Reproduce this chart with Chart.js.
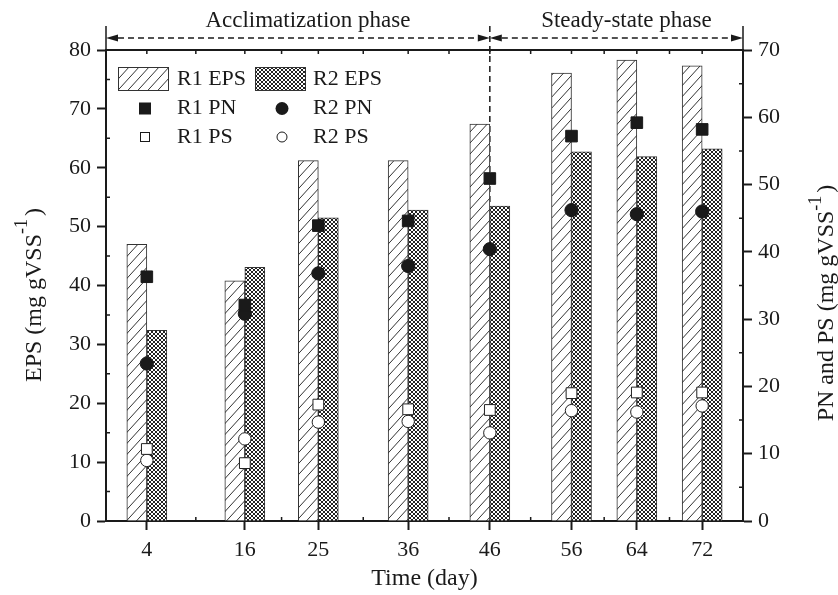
<!DOCTYPE html>
<html>
<head>
<meta charset="utf-8">
<title>EPS, PN and PS</title>
<script src="https://cdn.jsdelivr.net/npm/chart.js@4.4.1/dist/chart.umd.min.js"></script>
<style>
body { margin: 0; background: #fff; }
</style>
</head>
<body>
<canvas id="epsChart" width="838" height="595"></canvas>
<script>
var days = [4, 16, 25, 36, 46, 56, 64, 72];
var r1Eps = [47.0, 40.8, 61.2, 61.2, 67.4, 76.1, 78.3, 77.3];
var r2Eps = [32.4, 43.1, 51.5, 52.8, 53.5, 62.7, 61.9, 63.2];
var r1Pn = [36.3, 32.1, 43.9, 44.6, 50.9, 57.2, 59.2, 58.2];
var r2Pn = [23.4, 30.8, 36.8, 37.9, 40.4, 46.2, 45.6, 46.0];
var r1Ps = [10.7, 8.6, 17.3, 16.6, 16.5, 19.0, 19.1, 19.1];
var r2Ps = [9.0, 12.2, 14.7, 14.8, 13.1, 16.4, 16.2, 17.1];
var phaseSplit = 46;
var phaseNames = ['Acclimatization phase', 'Steady-state phase'];

var serif = '"Liberation Serif", "Times New Roman", serif';
var ink = '#1a1a1a';

Chart.defaults.font.family = serif;
Chart.defaults.color = ink;

function pts(vals) {
    return days.map(function (d, i) { return { x: d, y: vals[i] }; });
}

function hatchPattern() {
    var c = document.createElement('canvas');
    c.width = 10; c.height = 11;
    var g = c.getContext('2d');
    g.fillStyle = '#fff';
    g.fillRect(0, 0, 10, 11);
    g.strokeStyle = '#333';
    g.lineWidth = 1;
    g.beginPath();
    g.moveTo(0, 11); g.lineTo(10, 0);
    g.moveTo(-1, 1.1); g.lineTo(1, -1.1);
    g.moveTo(9, 12.1); g.lineTo(11, 9.9);
    g.stroke();
    return g.createPattern(c, 'repeat');
}

function crossPattern() {
    var c = document.createElement('canvas');
    c.width = 4; c.height = 4;
    var g = c.getContext('2d');
    g.fillStyle = '#fff';
    g.fillRect(0, 0, 4, 4);
    g.strokeStyle = '#222';
    g.lineWidth = 1;
    g.beginPath();
    g.moveTo(0, 0); g.lineTo(4, 4);
    g.moveTo(0, 4); g.lineTo(4, 0);
    g.stroke();
    return g.createPattern(c, 'repeat');
}

var hatch = hatchPattern();
var cross = crossPattern();

function arrowHead(ctx, x, y, dir) {
    ctx.beginPath();
    ctx.moveTo(x, y);
    ctx.lineTo(x - dir * 12, y - 3.5);
    ctx.lineTo(x - dir * 12, y + 3.5);
    ctx.closePath();
    ctx.fill();
}

function dashedArrow(ctx, x1, x2, y) {
    ctx.save();
    ctx.setLineDash([6, 4]);
    ctx.lineWidth = 1.5;
    ctx.beginPath();
    ctx.moveTo(x1 + 12, y);
    ctx.lineTo(x2 - 12, y);
    ctx.stroke();
    ctx.restore();
    arrowHead(ctx, x1, y, -1);
    arrowHead(ctx, x2, y, 1);
}

function yTitle(ctx, cx, cy, main, sup, rise) {
    ctx.save();
    ctx.translate(cx, cy);
    ctx.rotate(-Math.PI / 2);
    var f1 = '24px ' + serif, f2 = '18px ' + serif;
    ctx.font = f1;
    var w1 = ctx.measureText(main).width;
    var w3 = ctx.measureText(')').width;
    ctx.font = f2;
    var w2 = ctx.measureText(sup).width;
    var x = -(w1 + w2 + 3 + w3) / 2;
    ctx.textAlign = 'left';
    ctx.textBaseline = 'alphabetic';
    ctx.fillStyle = ink;
    ctx.font = f1;
    ctx.fillText(main, x, 0);
    ctx.font = f2;
    ctx.fillText(sup, x + w1, -rise);
    ctx.font = f1;
    ctx.fillText(')', x + w1 + w2 + 3, 0);
    ctx.restore();
}

var decorPlugin = {
    id: 'decor',
    beforeDatasetsDraw: function (chart) {
        var ctx = chart.ctx, a = chart.chartArea;
        var xs = chart.scales.x.getPixelForValue(phaseSplit);
        ctx.save();
        ctx.strokeStyle = ink;
        ctx.lineWidth = 1.5;
        ctx.setLineDash([6, 4]);
        ctx.beginPath();
        ctx.moveTo(xs, 26);
        ctx.lineTo(xs, a.bottom);
        ctx.stroke();
        ctx.restore();
    },
    afterDraw: function (chart) {
        var ctx = chart.ctx, a = chart.chartArea;
        var x = chart.scales.x, y = chart.scales.y, y2 = chart.scales.y2;
        var xs = x.getPixelForValue(phaseSplit);
        var i, p;
        ctx.save();
        ctx.strokeStyle = ink;
        ctx.fillStyle = ink;

        // top frame
        ctx.lineWidth = 2;
        ctx.beginPath();
        ctx.moveTo(a.left - 1, a.top);
        ctx.lineTo(a.right + 1, a.top);
        ctx.stroke();

        // minor ticks
        ctx.lineWidth = 1.5;
        ctx.beginPath();
        for (i = 5; i < 80; i += 10) {
            p = y.getPixelForValue(i);
            ctx.moveTo(a.left, p); ctx.lineTo(a.left + 4, p);
        }
        for (i = 5; i < 70; i += 10) {
            p = y2.getPixelForValue(i);
            ctx.moveTo(a.right, p); ctx.lineTo(a.right - 4, p);
        }
        for (i = 0; i < days.length; i++) {
            p = x.getPixelForValue(days[i]);
            ctx.moveTo(p, a.top); ctx.lineTo(p, a.top + 4);
            if (i < days.length - 1) {
                p = x.getPixelForValue((days[i] + days[i + 1]) / 2);
                ctx.moveTo(p, a.bottom); ctx.lineTo(p, a.bottom - 4);
                ctx.moveTo(p, a.top); ctx.lineTo(p, a.top + 4);
            }
        }
        ctx.stroke();

        // phase arrows
        ctx.lineWidth = 1.5;
        ctx.beginPath();
        ctx.moveTo(a.left, 26); ctx.lineTo(a.left, a.top);
        ctx.moveTo(a.right, 26); ctx.lineTo(a.right, a.top);
        ctx.stroke();
        dashedArrow(ctx, a.left, xs, 38);
        dashedArrow(ctx, xs, a.right, 38);

        ctx.font = '23px ' + serif;
        ctx.textAlign = 'center';
        ctx.textBaseline = 'alphabetic';
        ctx.fillText(phaseNames[0], (a.left + xs) / 2 + 10, 27);
        ctx.fillText(phaseNames[1], (xs + a.right) / 2 + 10, 27);

        // legend
        var lx = a.left + 12, ly = a.top + 17;
        ctx.lineWidth = 1;
        ctx.strokeStyle = '#333';
        ctx.fillStyle = hatch;
        ctx.fillRect(lx, ly, 51, 24);
        ctx.strokeRect(lx + 0.5, ly + 0.5, 50, 23);
        ctx.fillStyle = cross;
        ctx.fillRect(lx + 137, ly, 51, 24);
        ctx.strokeRect(lx + 137.5, ly + 0.5, 50, 23);

        ctx.fillStyle = ink;
        ctx.fillRect(lx + 21, ly + 35.5, 12, 12);
        ctx.beginPath();
        ctx.arc(lx + 164, ly + 41.5, 6.5, 0, Math.PI * 2);
        ctx.fill();
        ctx.fillStyle = '#fff';
        ctx.strokeStyle = ink;
        ctx.fillRect(lx + 22, ly + 65, 10, 10);
        ctx.strokeRect(lx + 22.5, ly + 65.5, 9, 9);
        ctx.beginPath();
        ctx.arc(lx + 164, ly + 70, 5, 0, Math.PI * 2);
        ctx.fill();
        ctx.stroke();

        ctx.fillStyle = ink;
        ctx.font = '22px ' + serif;
        ctx.textAlign = 'left';
        ctx.textBaseline = 'middle';
        ctx.fillText('R1 EPS', lx + 59, ly + 12);
        ctx.fillText('R2 EPS', lx + 195, ly + 12);
        ctx.fillText('R1 PN', lx + 59, ly + 41);
        ctx.fillText('R2 PN', lx + 195, ly + 41);
        ctx.fillText('R1 PS', lx + 59, ly + 70);
        ctx.fillText('R2 PS', lx + 195, ly + 70);
        ctx.restore();

        // y axis titles
        yTitle(ctx, 41, 295, 'EPS (mg gVSS', '-1', 14);
        yTitle(ctx, 833, 303, 'PN and PS (mg gVSS', '-1', 12);
    }
};

var axisGrid = {
    drawOnChartArea: false,
    drawTicks: true,
    tickLength: 9,
    tickWidth: 2,
    tickColor: ink,
    offset: false
};
var axisBorder = { display: true, color: ink, width: 2 };

var ctx = document.getElementById('epsChart').getContext('2d');
var epsChart = new Chart(ctx, {
    type: 'bar',
    data: {
        datasets: [
            { type: 'scatter', label: 'R1 PN', data: pts(r1Pn), yAxisID: 'y2', order: 1,
              pointStyle: 'rect', pointRadius: 8.2, backgroundColor: ink, borderColor: ink, borderWidth: 1 },
            { type: 'scatter', label: 'R2 PN', data: pts(r2Pn), yAxisID: 'y2', order: 1,
              pointStyle: 'circle', pointRadius: 6.6, backgroundColor: ink, borderColor: ink, borderWidth: 1 },
            { type: 'scatter', label: 'R1 PS', data: pts(r1Ps), yAxisID: 'y2', order: 1,
              pointStyle: 'rect', pointRadius: 7.6, backgroundColor: '#fff', borderColor: '#222', borderWidth: 1 },
            { type: 'scatter', label: 'R2 PS', data: pts(r2Ps), yAxisID: 'y2', order: 1,
              pointStyle: 'circle', pointRadius: 6.2, backgroundColor: '#fff', borderColor: '#222', borderWidth: 1 },
            { label: 'R1 EPS', data: pts(r1Eps), yAxisID: 'y', order: 2,
              backgroundColor: hatch, borderColor: '#333', borderWidth: 1, barThickness: 20 },
            { label: 'R2 EPS', data: pts(r2Eps), yAxisID: 'y', order: 2,
              backgroundColor: cross, borderColor: '#333', borderWidth: 1, barThickness: 20 }
        ]
    },
    options: {
        responsive: false,
        animation: false,
        layout: { padding: { top: 50, left: 0, right: 0, bottom: 0 } },
        plugins: { legend: { display: false }, tooltip: { enabled: false } },
        scales: {
            x: {
                type: 'linear',
                min: -1,
                max: 77,
                offset: false,
                grid: axisGrid,
                border: axisBorder,
                afterBuildTicks: function (s) {
                    s.ticks = days.map(function (d) { return { value: d }; });
                },
                afterFit: function (s) { s.height = 74; },
                ticks: { autoSkip: false, maxRotation: 0, padding: 7, color: ink, font: { size: 22 } },
                title: { display: true, text: 'Time (day)', color: ink, font: { size: 24 }, padding: { top: 0, bottom: 2 } }
            },
            y: {
                position: 'left',
                min: 0,
                max: 80,
                grid: axisGrid,
                border: axisBorder,
                afterFit: function (s) { s.width = 106; },
                ticks: { stepSize: 10, padding: 6, color: ink, font: { size: 22 } }
            },
            y2: {
                position: 'right',
                min: 0,
                max: 70,
                grid: axisGrid,
                border: axisBorder,
                afterFit: function (s) { s.width = 95; },
                ticks: { stepSize: 10, padding: 6, color: ink, font: { size: 22 } }
            }
        }
    },
    plugins: [decorPlugin]
});
</script>
</body>
</html>
